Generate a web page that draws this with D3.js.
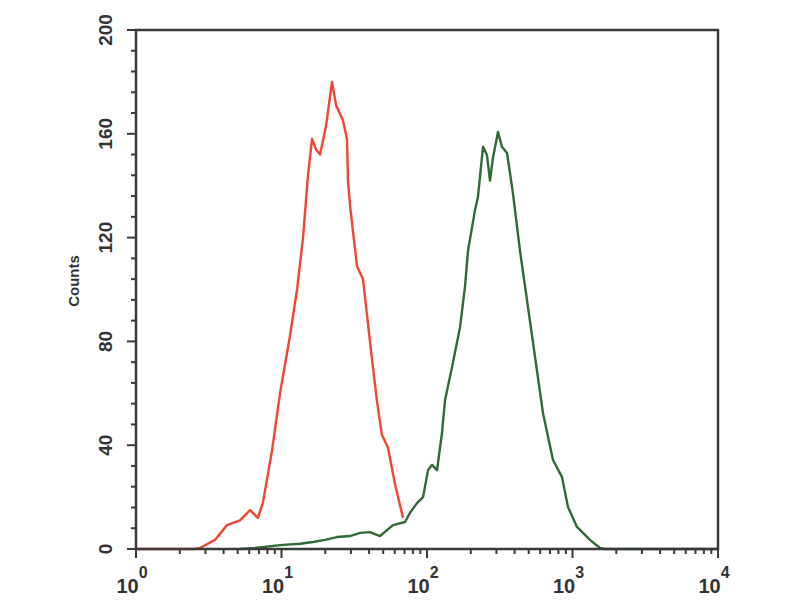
<!DOCTYPE html>
<html><head><meta charset="utf-8">
<script src="https://cdn.jsdelivr.net/npm/d3@7"></script>
<style>body{margin:0;background:#fff}svg{display:block}text{font-family:"Liberation Sans",Arial,sans-serif;fill:#333;font-weight:bold}</style>
</head><body>
<svg id="c" width="800" height="600"></svg>
<script>
// Exponents (log10 of fluorescence intensity) and counts
const redExp   = [0,0.405,0.44,0.543,0.625,0.715,0.784,0.838,0.873,0.935,0.99,1.058,1.107,1.148,1.182,1.21,1.237,1.265,1.306,1.347,1.375,1.423,1.45,1.457,1.47,1.49,1.519,1.56,1.608,1.656,1.69,1.732,1.78,1.835];
const redCount = [0,0,0.4,3.5,9.2,11,15,12,18,38,60,82,100,120,144,158,154,152,163,180,171,165,158,142,133,123,109,104,80,57,44,39,25,12];
const greenExp   = [0.715,0.818,0.99,1.127,1.216,1.299,1.381,1.471,1.54,1.608,1.677,1.725,1.766,1.849,1.883,1.931,1.973,2.007,2.034,2.069,2.103,2.124,2.172,2.227,2.261,2.282,2.33,2.35,2.385,2.412,2.433,2.454,2.488,2.515,2.55,2.591,2.639,2.687,2.729,2.797,2.866,2.928,2.969,3.031,3.12,3.189,3.22,4];
const greenCount = [0,0.4,1.5,2,2.7,3.5,4.6,5,6.2,6.5,5,7.3,9.2,10.4,13.9,17.7,20,30.4,32.4,30.4,44.7,57.4,70,85.5,101,115,130.6,135.6,155,151.8,142,151,160.7,155,152.6,137,115,96,79.4,52.4,34.3,27.7,16.2,8.5,3.5,0.4,0,0];
const xTickExp = [0,1,2,3,4];
const yTicks = [0,40,80,120,160,200];
const yLabel = "Counts";

const svg = d3.select("#c");
const L=136,R=718,T=30,B=549;
const x = d3.scaleLog().domain([1,10000]).range([L,R]);
const y = d3.scaleLinear().domain([0,200]).range([B,T]);
const axisCol="#3a3a3a";

const red = redExp.map((e,i)=>({v:Math.pow(10,e),c:redCount[i]}));
const green = greenExp.map((e,i)=>({v:Math.pow(10,e),c:greenCount[i]}));
const line = d3.line().x(d=>x(d.v)).y(d=>y(d.c));

svg.append("path").datum(green).attr("d",line).attr("fill","none").attr("stroke","#2f6a37").attr("stroke-width",2.4).attr("stroke-linejoin","round");
svg.append("path").datum(red).attr("d",line).attr("fill","none").attr("stroke","#f04632").attr("stroke-width",2.4).attr("stroke-linejoin","round");

// frame
svg.append("rect").attr("x",L).attr("y",T).attr("width",R-L).attr("height",B-T).attr("fill","none").attr("stroke",axisCol).attr("stroke-width",2.5);

// x ticks
const minorX=[];
for(let d=0;d<4;d++) for(let k=2;k<=9;k++) minorX.push(k*Math.pow(10,d));
const gx=svg.append("g");
gx.selectAll("line.mi").data(minorX).join("line").attr("x1",d=>x(d)).attr("x2",d=>x(d)).attr("y1",B).attr("y2",B+5).attr("stroke",axisCol).attr("stroke-width",2);
gx.selectAll("line.ma").data(xTickExp).join("line").attr("x1",d=>x(Math.pow(10,d))).attr("x2",d=>x(Math.pow(10,d))).attr("y1",B).attr("y2",B+9).attr("stroke",axisCol).attr("stroke-width",2);
const xl=gx.selectAll("text").data(xTickExp).join("text").attr("x",d=>x(Math.pow(10,d))-4).attr("y",593).attr("text-anchor","middle").style("font-size","20px");
xl.append("tspan").text("10");
xl.append("tspan").attr("dy",-15).style("font-size","16px").text(d=>d);

// y ticks
const minorY=d3.range(0,201,8).filter(v=>v%40!==0);
const gy=svg.append("g");
gy.selectAll("line.mi").data(minorY).join("line").attr("x1",L-5).attr("x2",L).attr("y1",d=>y(d)).attr("y2",d=>y(d)).attr("stroke",axisCol).attr("stroke-width",2);
gy.selectAll("line.ma").data(yTicks).join("line").attr("x1",L-9).attr("x2",L).attr("y1",d=>y(d)).attr("y2",d=>y(d)).attr("stroke",axisCol).attr("stroke-width",2);
gy.selectAll("text").data(yTicks).join("text").attr("transform",d=>`translate(112,${y(d)}) rotate(-90)`).attr("text-anchor","middle").style("font-size","19px").text(d=>d);

svg.append("text").attr("transform","translate(79,281) rotate(-90)").attr("text-anchor","middle").style("font-size","15px").text(yLabel);
</script>
</body></html>
